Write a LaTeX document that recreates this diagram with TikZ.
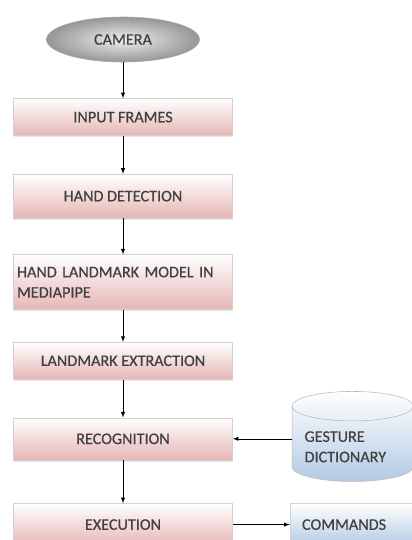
\documentclass[tikz,border=0pt]{standalone}
\usepackage{fontspec}
\setmainfont{Carlito}
\newfontfamily\boxfont[FakeBold=0.5]{Carlito}
\usepackage{tikz}
\usetikzlibrary{positioning, arrows, shapes.geometric, shadows}
\definecolor{stagepink}{RGB}{230,182,181}
\definecolor{camgray}{RGB}{150,150,150}
\definecolor{dictblue}{RGB}{180,202,228}
\tikzset{
    source/.style={ellipse, draw=gray!70, inner color=gray!12, outer color=camgray,
      minimum width=3.825cm, minimum height=1.125cm},
    stage/.style={rectangle, draw=gray!35, top color=white, bottom color=stagepink,
      minimum width=5.475cm, align=center,
      drop shadow={opacity=0.2, shadow xshift=0.4pt, shadow yshift=-1.2pt}},
    store/.style={cylinder, shape border rotate=90, aspect=0.28, draw=gray!55,
      top color=white, bottom color=dictblue, minimum width=3.025cm,
      minimum height=2.25cm, text width=2.4cm, align=left},
    output/.style={rectangle, draw=gray!35, top color=white, bottom color=dictblue,
      minimum width=3.3cm, inner xsep=0.3cm, text width=2.7cm, align=left},
    every node/.append style={font=\boxfont\fontsize{11.5}{14.5}\selectfont, text=black!75},
}

\begin{document}
\begin{tikzpicture}
    \tikzset{
      node distance=0.9cm,
      >=latex
    }
    \useasboundingbox (0,0) rectangle (10.3,-13.5);

    \node[source] (camera) at (3.075,-0.9875) {CAMERA};
    \node[stage, minimum height=0.925cm, below=0.9cm of camera] (frames) {INPUT FRAMES};
    \node[stage, minimum height=1.1cm, below=0.95cm of frames] (detect) {HAND DETECTION};
    \node[stage, minimum height=1.375cm, text width=5.3cm, align=left, inner xsep=0.08cm,
      below=0.9cm of detect] (model) {HAND LANDMARK MODEL IN\\MEDIAPIPE};
    \node[stage, minimum height=0.925cm, below=0.8cm of model] (extract) {LANDMARK EXTRACTION};
    \node[stage, minimum height=1.05cm, below=0.95cm of extract] (recog) {RECOGNITION};
    \node[stage, minimum height=1.05cm, below=1.08cm of recog] (exec) {EXECUTION};

    \node[store, right=1.475cm of recog, yshift=-0.2cm] (dict) {GESTURE\\DICTIONARY};
    \node[output, minimum height=1.05cm, right=1.425cm of exec] (cmds) {COMMANDS};

    \draw[->] (camera) -- (frames);
    \draw[->] (frames) -- (detect);
    \draw[->] (detect) -- (model);
    \draw[->] (model) -- (extract);
    \draw[->] (extract) -- (recog);
    \draw[->] (recog) -- (exec);
    \draw[->] (recog.east -| dict.west) -- (recog.east);
    \draw[->] (exec.east) -- (cmds.west);
  \end{tikzpicture}
\end{document}
